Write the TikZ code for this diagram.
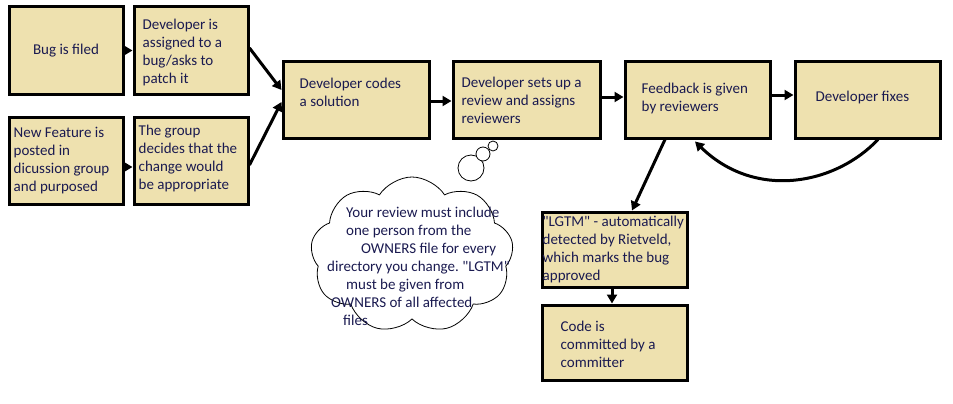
\documentclass[tikz,border=0pt]{standalone}
\usepackage{fontspec}
\setmainfont{Carlito}[Ligatures=TeXOff]
\usetikzlibrary{arrows.meta,shapes.symbols}
\definecolor{boxfill}{HTML}{EEE1AF}
\definecolor{txtc}{HTML}{1A1A50}
\frenchspacing
\begin{document}
\begin{tikzpicture}[x=1pt,y=-1pt,
  box/.style={draw=black,fill=boxfill,line width=3pt,rectangle,inner sep=0pt},
  txt/.style={text=txtc,inner sep=0pt,align=left,font=\fontsize{15}{17.9}\selectfont},
  flow/.style={line width=3pt,-{Triangle[length=9pt,width=10pt]}},
  bubble/.style={circle,draw=black,fill=white,line width=0.8pt,inner sep=0pt}]
\useasboundingbox (0,0) rectangle (953,404);
% boxes
\node[box,minimum width=114pt,minimum height=87pt] (bug) at (66,50.5) {};
\node[box,minimum width=114pt,minimum height=87pt] (assign) at (191,50.5) {};
\node[box,minimum width=114pt,minimum height=87pt] (feat) at (66,160.5) {};
\node[box,minimum width=114pt,minimum height=87pt] (group) at (191,160.5) {};
\node[box,minimum width=146pt,minimum height=76pt] (codes) at (356,100) {};
\node[box,minimum width=147pt,minimum height=76pt] (setup) at (526.5,100) {};
\node[box,minimum width=145pt,minimum height=76pt] (feedback) at (697.5,100) {};
\node[box,minimum width=145pt,minimum height=76pt] (fixes) at (867.5,100) {};
\node[box,minimum width=145pt,minimum height=75pt] (lgtm) at (614.5,249.5) {};
\node[box,minimum width=145pt,minimum height=75pt] (commit) at (614.5,342.5) {};
% texts
\node[txt] (tbug) at (bug.center) {Bug is filed};
\node[txt,anchor=west] (tassign) at ([xshift=10pt,yshift=-2pt]assign.west) {Developer is\\assigned to a\\bug/asks to\\patch it};
\node[txt,anchor=west] (tfeat) at ([xshift=6pt]feat.west) {New Feature is\\posted in\\dicussion group\\and purposed};
\node[txt,anchor=west] (tgroup) at ([xshift=6pt,yshift=2pt]group.west) {The group\\decides that the\\change would\\be appropriate};
\node[txt,anchor=west] (tcodes) at ([xshift=18pt,yshift=7.5pt]codes.west) {Developer codes\\a solution};
\node[txt,anchor=west] (tsetup) at ([xshift=10pt]setup.west) {Developer sets up a\\review and assigns\\reviewers};
\node[txt,anchor=west] (tfeedback) at ([xshift=18pt,yshift=1.5pt]feedback.west) {Feedback is given\\by reviewers};
\node[txt,anchor=west] (tfixes) at ([xshift=22pt,yshift=2pt]fixes.west) {Developer fixes};
\node[txt,anchor=west] (tlgtm) at ([xshift=2pt]lgtm.west) {"LGTM" - automatically\\detected by Rietveld,\\which marks the bug\\approved};
\node[txt,anchor=west] (tcommit) at ([xshift=20pt,yshift=-1.5pt]commit.west) {Code is\\committed by a\\committer};
% cloud
\node[cloud,draw=black,line width=0.8pt,cloud puffs=9,cloud puff arc=115,aspect=1.3,minimum width=203pt,minimum height=156pt,inner sep=0pt] (cloud) at (412,255) {};
\node[bubble,minimum size=26pt] (bub1) at (471,168) {};
\node[bubble,minimum size=14pt] (bub2) at (483,154) {};
\node[bubble,minimum size=10pt] (bub3) at (493,146) {};
\node[txt,anchor=west] (tcloud) at (327,266.5) {\hspace*{19pt}Your review must include\\\hspace*{19pt}one person from the\\\hspace*{34pt}OWNERS file for every\\directory you change. "LGTM"\\\hspace*{19pt}must be given from\\\hspace*{4pt}OWNERS of all affected\\\hspace*{16pt}files};
% connectors
\draw[flow] (bug.east) -- (assign.west);
\draw[flow] ([yshift=-6.5pt]feat.east) -- ([yshift=-6.5pt]group.west);
\draw[flow] ([yshift=2.5pt]assign.east) -- ([yshift=10pt]codes.west);
\draw[flow] ([yshift=-4.5pt]group.east) -- ([yshift=-2pt]codes.west);
\draw[flow] ([yshift=-1pt]codes.east) -- ([yshift=-1pt]setup.west);
\draw[flow] ([yshift=3pt]setup.east) -- ([yshift=3pt]feedback.west);
\draw[flow] ([yshift=5pt]feedback.east) -- ([yshift=5pt]fixes.west);
\draw[flow] ([xshift=-32.5pt]feedback.south) -- ([xshift=17.5pt]lgtm.north);
\draw[flow] ([xshift=-2.5pt]lgtm.south) -- ([xshift=-2.5pt]commit.north);
\draw[flow] ([xshift=10.5pt]fixes.south) .. controls (835,185) and (755,200) .. ([xshift=-2.5pt,yshift=-2pt]feedback.south);
\end{tikzpicture}
\end{document}
